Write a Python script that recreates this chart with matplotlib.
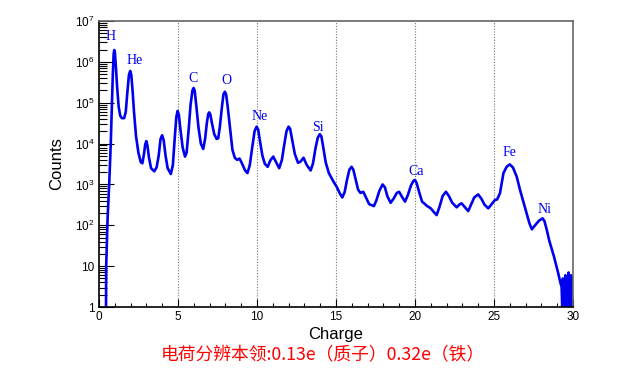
import matplotlib
matplotlib.use('Agg')
import matplotlib.pyplot as plt
from matplotlib.ticker import FixedLocator, LogLocator, NullFormatter

# Charge spectrum (counts per charge bin)
charge = [0.45, 0.46, 0.55, 0.65, 0.75, 0.82, 0.88, 0.93, 0.97, 1.01, 1.07, 1.15, 1.25, 1.35, 1.45,
          1.6, 1.7, 1.8, 1.9, 1.98, 2.05, 2.13, 2.22, 2.35, 2.5, 2.65, 2.75, 2.85, 2.93, 3.0,
          3.07, 3.17, 3.3, 3.5, 3.65, 3.78, 3.9, 4.0, 4.1, 4.22, 4.35, 4.55, 4.68, 4.8, 4.9,
          4.98, 5.06, 5.16, 5.3, 5.45, 5.55, 5.68, 5.8, 5.92, 5.99, 6.06, 6.17, 6.3, 6.45, 6.6,
          6.72, 6.83, 6.92, 6.98, 7.05, 7.15, 7.3, 7.45, 7.55, 7.65, 7.77, 7.88, 7.97, 8.05, 8.15,
          8.28, 8.45, 8.6, 8.75, 8.9, 9.05, 9.25, 9.4, 9.55, 9.7, 9.85, 9.98, 10.08, 10.2, 10.35,
          10.5, 10.68, 10.85, 11.03, 11.2, 11.41, 11.58, 11.72, 11.87, 12.0, 12.1, 12.22, 12.4, 12.6, 12.75,
          12.95, 13.15, 13.4, 13.55, 13.7, 13.85, 13.98, 14.08, 14.2, 14.35, 14.55, 14.83, 15.05, 15.25, 15.4,
          15.55, 15.7, 15.85, 15.99, 16.1, 16.25, 16.4, 16.55, 16.73, 16.9, 17.1, 17.4, 17.55, 17.75, 17.95,
          18.1, 18.25, 18.46, 18.65, 18.85, 19.0, 19.15, 19.37, 19.55, 19.75, 19.92, 20.0, 20.1, 20.28, 20.45,
          20.6, 20.75, 21.0, 21.2, 21.37, 21.55, 21.75, 21.96, 22.15, 22.35, 22.64, 22.8, 22.95, 23.15, 23.37,
          23.55, 23.75, 24.0, 24.2, 24.4, 24.64, 24.85, 25.06, 25.2, 25.38, 25.6, 25.8, 26.0, 26.2, 26.44,
          26.65, 26.9, 27.07, 27.25, 27.4, 27.6, 27.85, 28.08, 28.2, 28.35, 28.5, 28.65, 28.8, 28.95, 29.07,
          29.2, 29.28, 29.32, 29.36, 29.4, 29.44, 29.48, 29.52, 29.56, 29.6, 29.64, 29.68, 29.72, 29.76, 29.8,
          29.84, 29.88, 29.92, 29.96, 30.0]
counts = [1, 10, 150, 1000, 1e4, 8e4, 5e5, 1.5e6, 1.95e6, 1.7e6, 8e5, 2.5e5, 8e4, 4.8e4, 4.2e4,
          4.2e4, 6e4, 1.8e5, 4.8e5, 6e5, 4.8e5, 2e5, 6e4, 1.5e4, 6e3, 3.5e3, 3.3e3, 5.5e3, 9.5e3, 1.15e4,
          9e3, 4.5e3, 2.5e3, 2.1e3, 2.6e3, 5e3, 1.3e4, 1.6e4, 1.2e4, 5e3, 2.5e3, 1.8e3, 3e3, 1.4e4, 4.5e4,
          6.3e4, 5e4, 2.2e4, 8e3, 4.8e3, 6e3, 2.2e4, 9e4, 2e5, 2.3e5, 2e5, 8e4, 2.5e4, 1e4, 7.4e3,
          1.3e4, 3.2e4, 5.3e4, 5.8e4, 5.2e4, 3.2e4, 1.7e4, 1.3e4, 1.35e4, 2.5e4, 7e4, 1.6e5, 1.86e5, 1.6e5, 8e4,
          2.8e4, 7e3, 4.5e3, 4e3, 4.3e3, 3.3e3, 2.2e3, 1.9e3, 3e3, 8e3, 2e4, 2.6e4, 2.2e4, 1.1e4, 5e3,
          3.2e3, 2.7e3, 3.9e3, 4.8e3, 3.6e3, 2.5e3, 4e3, 9e3, 2e4, 2.6e4, 2.3e4, 1.3e4, 5.5e3, 3.4e3, 3.6e3,
          4.5e3, 3e3, 2.2e3, 3.3e3, 7.5e3, 1.4e4, 1.7e4, 1.5e4, 8e3, 3.5e3, 1.9e3, 1.2e3, 870, 600, 480,
          650, 1.3e3, 2.3e3, 2.7e3, 2.3e3, 1.3e3, 750, 620, 660, 480, 330, 295, 400, 700, 1.0e3,
          850, 520, 356, 450, 620, 660, 520, 380, 550, 950, 1.25e3, 1.28e3, 1.1e3, 620, 380,
          340, 300, 260, 210, 178, 280, 520, 660, 520, 360, 275, 320, 345, 280, 223,
          320, 480, 570, 450, 320, 260, 330, 415, 430, 610, 1.9e3, 2.7e3, 3.1e3, 2.6e3, 1.55e3,
          730, 330, 195, 110, 80, 100, 130, 148, 125, 75, 42, 27, 17, 10, 6.6,
          4, 3.1, 1, 5, 1, 4, 1, 6, 1, 2, 5, 1, 7, 1, 3,
          1, 6, 1, 5, 1]

elements = ['H', 'He', 'C', 'O', 'Ne', 'Si', 'Ca', 'Fe', 'Ni']
label_x = [0.76, 2.28, 5.95, 8.04, 10.2, 13.86, 20.06, 25.95, 28.23]
label_y = [4.3e6, 1.1e6, 4.0e5, 3.6e5, 4.5e4, 2.5e4, 2.1e3, 6.2e3, 250]

x_ticks = [0, 5, 10, 15, 20, 25, 30]
y_ticks = [1, 10, 1e2, 1e3, 1e4, 1e5, 1e6, 1e7]
y_ticklabels = ['1', '10', '$10^{2}$', '$10^{3}$', '$10^{4}$', '$10^{5}$', '$10^{6}$', '$10^{7}$']

plt.rcParams['font.family'] = ['Liberation Sans', 'Noto Sans CJK SC', 'DejaVu Sans']
plt.rcParams['mathtext.default'] = 'regular'

fig = plt.figure(figsize=(6.3, 3.76), dpi=100)
ax = fig.add_axes([0.157, 0.1835, 0.7525, 0.7605])

ax.plot(charge, counts, color='#0000ee', lw=1.9)

ax.set_yscale('log')
ax.set_xlim(0, 30)
ax.set_ylim(1, 1e7)

for gx in x_ticks[1:-1]:
    ax.axvline(gx, color='#777777', lw=0.8, ls=(0, (1, 1.5)), zorder=0)

ax.xaxis.set_major_locator(FixedLocator(x_ticks))
ax.xaxis.set_minor_locator(FixedLocator(range(0, 31)))
ax.set_yticks(y_ticks)
ax.set_yticklabels(y_ticklabels)
ax.yaxis.set_minor_locator(LogLocator(base=10, subs=range(2, 10)))
ax.yaxis.set_minor_formatter(NullFormatter())

ax.tick_params(axis='both', which='both', direction='in', labelsize=8.5, pad=3)
ax.tick_params(axis='x', which='major', length=6, width=0.8)
ax.tick_params(axis='x', which='minor', length=3, width=0.8)
ax.tick_params(axis='y', which='major', length=11, width=0.8)
ax.tick_params(axis='y', which='minor', length=5.5, width=0.8)

for s in ['top', 'right']:
    ax.spines[s].set_color('#666666')
    ax.spines[s].set_linewidth(1.2)
for s in ['bottom', 'left']:
    ax.spines[s].set_linewidth(1.2)

for name, tx, ty in zip(elements, label_x, label_y):
    ax.text(tx, ty, name, color='#0000ee', fontsize=10, family='Liberation Serif',
            ha='center', va='center')

ax.set_xlabel('Charge', fontsize=12, labelpad=3)
ax.set_ylabel('Counts', fontsize=12, labelpad=8)

fig.text(0.513, 0.054, '电荷分辨本领:0.13e（质子）0.32e（铁）', color='red', fontsize=12.8,
         ha='center', va='center', family=['Noto Sans CJK SC', 'DejaVu Sans'])

fig.savefig('out.png', dpi=100)
